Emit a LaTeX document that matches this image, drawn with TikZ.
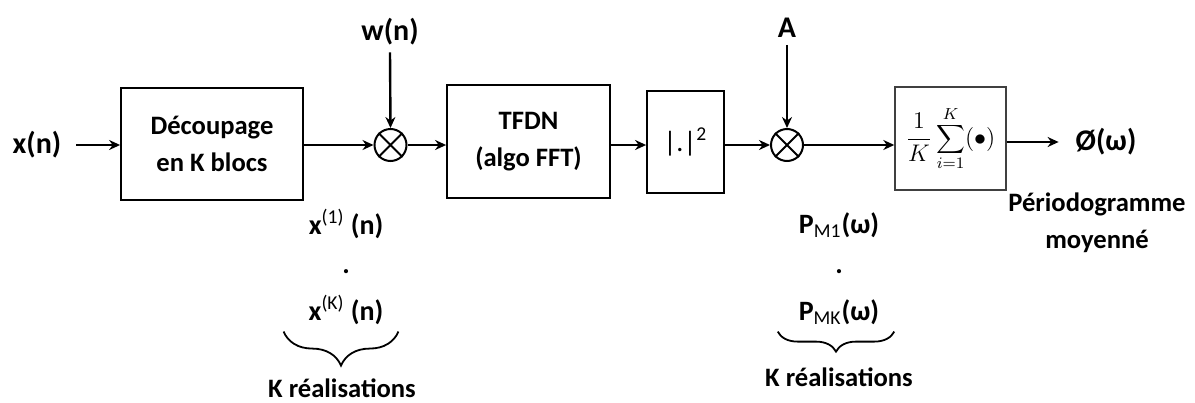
\documentclass[tikz,border=0pt]{standalone}
\usepackage{fontspec}
\setmainfont{Carlito}
\usetikzlibrary{arrows.meta,decorations.pathreplacing}
\newcommand{\grand}[0]{\bfseries\fontsize{15}{18}\selectfont}
\newcommand{\moyen}[0]{\bfseries\fontsize{13.3}{18.5}\selectfont}
\newcommand{\sig}[0]{\bfseries\fontsize{14}{17}\selectfont}
\tikzset{
  bloc/.style={draw, line width=0.9pt, rectangle, align=center, inner sep=0pt, font=\moyen},
  multip/.style={draw, circle, line width=1pt, minimum size=16pt, inner sep=0pt},
  fleche/.style={line width=1.2pt, -{Stealth[length=5.5pt,width=5pt]}},
  accol/.style={decorate, line width=0.9pt, decoration={brace, mirror, amplitude=#1}},
}

\begin{document}
\begin{tikzpicture}[x=0.5pt, y=-0.5pt]
	\useasboundingbox (0,0) rectangle (1195,402);
	\node[font=\grand] (xn) at (37,145) {x(n)};
	\node[bloc, minimum width=91pt, minimum height=56pt] (decoup) at (212,144) {Découpage\\en K blocs};
	\node[multip] (m1) at (390.5,145) {};
	\node[font=\grand] (wn) at (390,32) {w(n)};
	\node[bloc, minimum width=81.5pt, minimum height=56.5pt] (tfd) at (528.5,141.5) {TFDN\\(algo FFT)};
	\node[bloc, minimum width=38.5pt, minimum height=51pt, font=\mdseries\fontsize{14}{16}\selectfont] (module) at (685.5,142) {|.|\textsuperscript{2}};
	\node[multip] (m2) at (787,145) {};
	\node[font=\grand] (a) at (787,28) {A};
	\node[bloc, minimum width=55.5pt, minimum height=51.5pt, draw=black!75, line width=0.7pt, font=\fontsize{12}{14}\selectfont] (moy) at (950.5,138.5) {$\displaystyle\frac{1}{K}\sum_{i=1}^{K}(\bullet)$};
	\node[font=\grand] (phi) at (1106,142) {Ø(ω)};
	\node[font=\moyen, align=center] (perio) at (1097,223) {Périodogramme\\moyenné};

	\draw[fleche, shorten <=4pt] (xn.east) -- (decoup.west |- xn);
	\draw[fleche] (decoup.east |- m1) -- (m1.west);
	\draw[fleche] (wn.south) -- (m1.north);
	\draw[fleche] (m1.east) -- (tfd.west |- m1);
	\draw[fleche] (tfd.east |- m1) -- (module.west |- m1);
	\draw[fleche] (module.east |- m2) -- (m2.west);
	\draw[fleche] (a.south) -- (m2.north);
	\draw[fleche] (m2.east) -- (moy.west |- m2);
	\draw[fleche, shorten >=5pt] (moy.east |- phi) -- (phi.west);
	\foreach \m in {m1,m2}
		\draw[line width=1pt] (\m.north east) -- (\m.south west) (\m.north west) -- (\m.south east);

	\node[font=\sig] (x1) at (346,224) {x\textsuperscript{\mdseries(1)} (n)};
	\node[font=\sig] (xdot) at (346,272) {.};
	\node[font=\sig] (xK) at (346,310) {x\textsuperscript{\mdseries(K)} (n)};
	\draw[accol=17pt] ([xshift=-9pt]xK.south west) -- ([xshift=4pt]xK.south east);
	\node[font=\moyen] (kr1) at (342,388) {K réalisations};

	\node[font=\sig] (p1) at (839,225) {P\textsubscript{\mdseries M1}(ω)};
	\node[font=\sig] (pdot) at (839,272) {.};
	\node[font=\sig] (pK) at (839,312) {P\textsubscript{\mdseries MK}(ω)};
	\draw[accol=10pt] ([xshift=-7pt]pK.south west) -- ([xshift=4pt]pK.south east);
	\node[font=\moyen] (kr2) at (839,377) {K réalisations};
\end{tikzpicture}
\end{document}
